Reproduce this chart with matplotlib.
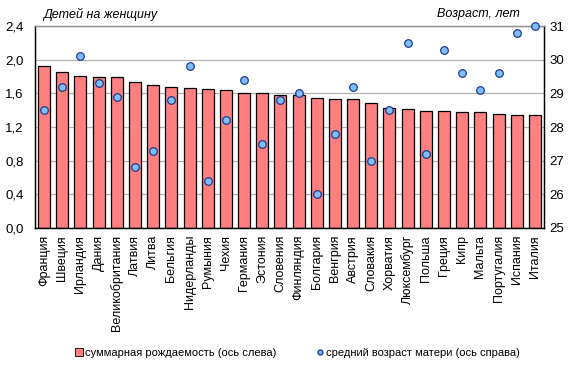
import numpy as np
import matplotlib
matplotlib.use('Agg')
import matplotlib.pyplot as plt
from matplotlib.lines import Line2D
from matplotlib.patches import Patch

plt.rcParams['font.family'] = ['Liberation Sans', 'DejaVu Sans']

# Countries (EU, sorted by total fertility rate)
countries = ['Франция', 'Швеция', 'Ирландия', 'Дания', 'Великобритания', 'Латвия',
             'Литва', 'Бельгия', 'Нидерланды', 'Румыния', 'Чехия', 'Германия',
             'Эстония', 'Словения', 'Финляндия', 'Болгария', 'Венгрия', 'Австрия',
             'Словакия', 'Хорватия', 'Люксембург', 'Польша', 'Греция', 'Кипр',
             'Мальта', 'Португалия', 'Испания', 'Италия']

# total fertility rate (left axis)
fertility = [1.92, 1.85, 1.81, 1.79, 1.79, 1.74, 1.70, 1.68, 1.66, 1.65, 1.64, 1.60,
             1.60, 1.58, 1.58, 1.54, 1.53, 1.53, 1.48, 1.42, 1.41, 1.39, 1.39, 1.38,
             1.38, 1.36, 1.34, 1.34]

# mean age of mother (right axis)
mother_age = [28.5, 29.2, 30.1, 29.3, 28.9, 26.8, 27.3, 28.8, 29.8, 26.4, 28.2, 29.4,
              27.5, 28.8, 29.0, 26.0, 27.8, 29.2, 27.0, 28.5, 30.5, 27.2, 30.3, 29.6,
              29.1, 29.6, 30.8, 31.0]

left_ticks = [0.0, 0.4, 0.8, 1.2, 1.6, 2.0, 2.4]
right_ticks = [25, 26, 27, 28, 29, 30, 31]

fig = plt.figure(figsize=(5.72, 3.72), dpi=100)
ax = fig.add_axes([35 / 572, 1 - 228 / 372, 509 / 572, 202 / 372])
ax2 = ax.twinx()

x = np.arange(len(countries))
ax.bar(x, fertility, width=0.66, color='#FF8080', edgecolor='black', linewidth=0.9, zorder=2)
ax.set_ylim(0, 2.4)
ax.set_xlim(-0.5, len(countries) - 0.5)
ax.set_yticks(left_ticks)
ax.set_yticklabels([f'{v:.1f}'.replace('.', ',') for v in left_ticks], fontsize=9.5)
ax.yaxis.grid(True, color='#b0b0b0', linewidth=0.9, zorder=0)
ax.set_axisbelow(True)
ax.set_xticks(x)
ax.set_xticklabels(countries, rotation=90, fontsize=9)
ax.tick_params(axis='y', length=0, pad=8)
ax.tick_params(axis='x', length=0, pad=5)

ax2.scatter(x, mother_age, s=30, color='#7FBFFF', edgecolor='#1F3A93', linewidth=0.9,
            zorder=3, clip_on=False)
ax2.set_ylim(25, 31)
ax2.set_yticks(right_ticks)
ax2.set_yticklabels([str(v) for v in right_ticks], fontsize=9.5)
ax2.tick_params(axis='y', length=0, pad=4)

for a in (ax, ax2):
    a.spines['top'].set_color('#909090')
    a.spines['top'].set_linewidth(0.9)
    a.spines['left'].set_linewidth(0.9)
    a.spines['right'].set_linewidth(0.9)
    a.spines['bottom'].set_linewidth(0.9)

fig.text(43 / 572, 1 - 14 / 372, 'Детей на женщину', style='italic', fontsize=9,
         ha='left', va='center')
fig.text(520 / 572, 1 - 14 / 372, 'Возраст, лет', style='italic', fontsize=9,
         ha='right', va='center')

handles = [Patch(facecolor='#FF8080', edgecolor='black', linewidth=0.6),
           Line2D([], [], marker='o', linestyle='none', markersize=3.5,
                  markerfacecolor='#7FBFFF', markeredgecolor='#1F3A93')]
labels = ['суммарная рождаемость (ось слева)', 'средний возраст матери (ось справа)']
fig.legend(handles, labels, loc='center', bbox_to_anchor=(0.52, 1 - 353 / 372), ncol=2,
           frameon=False, fontsize=8, handlelength=0.7, handleheight=0.7,
           handletextpad=0.2, columnspacing=3.5)

fig.savefig('out.png', dpi=100)
